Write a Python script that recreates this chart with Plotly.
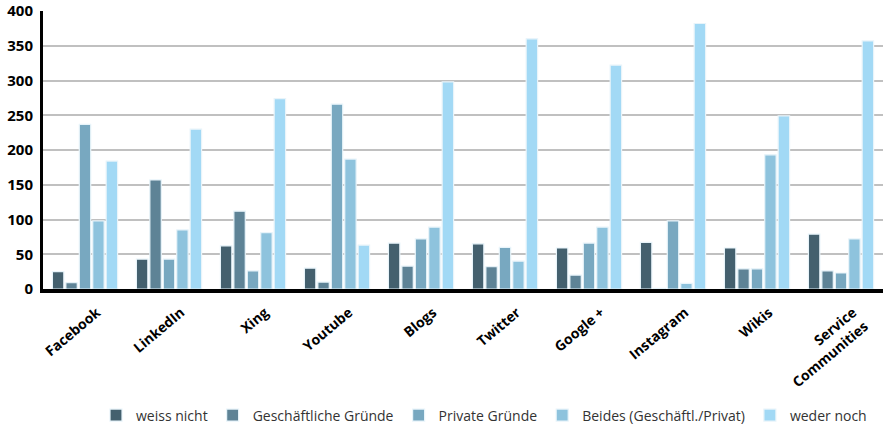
import plotly.graph_objects as go

categories = ["Facebook", "LinkedIn", "Xing", "Youtube", "Blogs", "Twitter",
              "Google +", "Instagram", "Wikis", "Service<br>Communities"]
series_names = ["weiss nicht", "Geschäftliche Gründe", "Private Gründe",
                "Beides (Geschäftl./Privat)", "weder noch"]
weiss_nicht = [25, 43, 62, 30, 66, 65, 59, 67, 59, 79]
geschaeftlich = [9, 157, 112, 10, 33, 32, 20, 1, 29, 26]
privat = [237, 43, 26, 266, 72, 60, 66, 98, 29, 23]
beides = [98, 85, 81, 187, 89, 40, 89, 8, 193, 72]
weder_noch = [184, 230, 274, 63, 298, 360, 322, 382, 249, 357]
colors = ["#44606e", "#5e8396", "#78a8c0", "#8ec3dd", "#a2d9f5"]

fig = go.Figure()
for name, vals, col in zip(series_names,
                           [weiss_nicht, geschaeftlich, privat, beides, weder_noch],
                           colors):
    fig.add_trace(go.Bar(x=categories, y=vals, name=name,
                         marker=dict(color=col, line=dict(color="#e8f4fa", width=1.2))))

fig.update_layout(
    width=883, height=425,
    margin=dict(l=43, r=0, t=11, b=136, autoexpand=False),
    paper_bgcolor="white", plot_bgcolor="white",
    barmode="group", bargap=0.2, bargroupgap=0.15,
    font=dict(family="Open Sans", color="#222222"),
    legend=dict(orientation="h", x=0.525, xanchor="center", y=-0.455, yanchor="middle",
                font=dict(size=14, color="#333333"), traceorder="normal",
                itemwidth=30),
    xaxis=dict(showline=True, linecolor="black", linewidth=4, tickangle=-40,
               tickfont=dict(size=14, family="Open Sans", color="black", weight="bold"),
               ticks="", showgrid=False, ticklabelshift=12, ticklabelstandoff=6,
               automargin=False),
    yaxis=dict(range=[0, 400], dtick=50, showline=True, linecolor="black", linewidth=3,
               showgrid=True, gridcolor="#c0c0c0", gridwidth=2, zeroline=False,
               tickfont=dict(size=15, family="Open Sans", color="black", weight="bold"),
               ticks="", ticklabelstandoff=4, automargin=False),
)
fig.write_html("out.html")
